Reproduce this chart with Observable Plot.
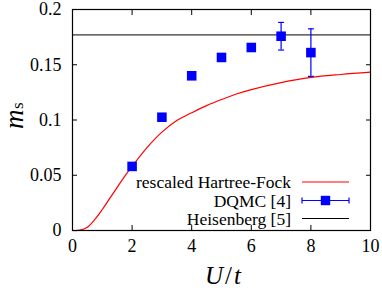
<!DOCTYPE html>
<html><head><meta charset="utf-8">
<script src="https://cdn.jsdelivr.net/npm/d3@7"></script>
<script src="https://cdn.jsdelivr.net/npm/@observablehq/plot@0.6"></script>
<style>
body{margin:0;background:#fff;}
#wrap{position:relative;width:382px;height:291px;font-family:'Liberation Serif','Times New Roman',serif;color:#000;}
.lab{position:absolute;white-space:nowrap;font-family:'Liberation Serif','Times New Roman',serif;}
</style></head>
<body><div id="wrap"></div>
<script>
// Rescaled Hartree-Fock curve
const hfU  = [0, 0.25, 0.5, 0.75, 1.0, 1.25, 1.5, 1.75, 2.0, 2.5, 3.0, 3.5, 4.0, 4.5, 5.0, 5.5, 6.0, 7.0, 8.0, 9.0, 10.0];
const hfMs = [0, 0.0003, 0.003, 0.010, 0.019, 0.029, 0.039, 0.049, 0.058, 0.075, 0.089, 0.0995, 0.1065, 0.1130, 0.1185, 0.1235, 0.1275, 0.1338, 0.1385, 0.1412, 0.1433];
// DQMC [4]
const qmcU   = [2, 3, 4, 5, 6, 7, 8];
const qmcMs  = [0.058, 0.1025, 0.140, 0.1566, 0.1656, 0.1758, 0.161];
const qmcErr = [0, 0, 0, 0, 0, 0.0125, 0.0215];
// Heisenberg [5]
const heisMs = 0.177;
const xTicks = [0, 2, 4, 6, 8, 10];
const yTicks = [0, 0.05, 0.1, 0.15, 0.2];
const legendLabels = ["rescaled Hartree-Fock", "DQMC [4]", "Heisenberg [5]"];

const hf = hfU.map((u, i) => ({u, m: hfMs[i]}));
const qmc = qmcU.map((u, i) => ({u, m: qmcMs[i], e: qmcErr[i]}));
const qmcE = qmc.filter(d => d.e > 0);
const capW = 0.1;

const plot = Plot.plot({
  width: 382, height: 291,
  marginLeft: 72, marginRight: 12, marginTop: 9, marginBottom: 61,
  style: {fontFamily: "'Liberation Serif', 'Times New Roman', serif", fontSize: "18px", color: "#000", background: "#fff"},
  x: {domain: [0, 10]},
  y: {domain: [0, 0.2]},
  marks: [
    Plot.line(hf, {x: "u", y: "m", stroke: "#ff0000", strokeWidth: 1.2, curve: "catmull-rom"}),
    Plot.ruleY([heisMs], {x1: 0, x2: 10, stroke: "#000", strokeWidth: 1}),
    Plot.ruleX(qmcE, {x: "u", y1: d => d.m - d.e, y2: d => d.m + d.e, stroke: "#0000ff", strokeWidth: 1.2}),
    Plot.link(qmcE, {x1: d => d.u - capW, x2: d => d.u + capW, y1: d => d.m + d.e, y2: d => d.m + d.e, stroke: "#0000ff", strokeWidth: 1.2}),
    Plot.link(qmcE, {x1: d => d.u - capW, x2: d => d.u + capW, y1: d => d.m - d.e, y2: d => d.m - d.e, stroke: "#0000ff", strokeWidth: 1.2}),
    Plot.dot(qmc, {x: "u", y: "m", symbol: "square", r: 5.4, fill: "#0000ff", stroke: "none"}),
    Plot.axisX({ticks: xTicks, anchor: "bottom", tickSize: -5, tickPadding: 14, label: null, tickFormat: d => String(d)}),
    Plot.axisX({ticks: xTicks, anchor: "top", tickSize: -5, label: null, tickFormat: () => ""}),
    Plot.axisY({ticks: yTicks, anchor: "left", tickSize: -5, tickPadding: 16, label: null, tickFormat: d => String(d)}),
    Plot.axisY({ticks: yTicks, anchor: "right", tickSize: -5, label: null, tickFormat: () => ""}),
    Plot.frame({stroke: "#000", strokeWidth: 1.2})
  ]
});
const wrap = document.getElementById("wrap");
wrap.appendChild(plot);

function addLab(html, css) {
  const d = document.createElement("div");
  d.className = "lab"; d.innerHTML = html; d.style.cssText = css;
  wrap.appendChild(d);
  return d;
}
// axis labels
addLab('<i>U</i><span style="margin:0 2px">/</span><i>t</i>', 'left:223px;top:275px;font-size:25px;line-height:25px;transform:translate(-50%,-50%);');
addLab('<i>m</i><span style="font-size:17px;position:relative;left:-4px">s</span>',
  'left:14px;top:116px;font-size:27px;line-height:22px;writing-mode:vertical-rl;transform:translate(-50%,-50%) rotate(180deg);');

// legend
const rows = [182, 200.5, 218.5];
legendLabels.forEach((t, i) => {
  addLab(t, `right:${382-291}px;top:${rows[i]-8}px;font-size:17.5px;line-height:16px;text-align:right;`);
});
const ns = "http://www.w3.org/2000/svg";
const lg = document.createElementNS(ns, "svg");
lg.setAttribute("width", 382); lg.setAttribute("height", 291);
lg.style.cssText = "position:absolute;left:0;top:0;pointer-events:none";
function ln(x1, y1, x2, y2, c, w) {
  const l = document.createElementNS(ns, "line");
  l.setAttribute("x1", x1); l.setAttribute("y1", y1); l.setAttribute("x2", x2); l.setAttribute("y2", y2);
  l.setAttribute("stroke", c); l.setAttribute("stroke-width", w); lg.appendChild(l);
}
ln(302, rows[0], 349, rows[0], "#ff0000", 1.2);
ln(302, rows[1], 349, rows[1], "#0000ff", 1.2);
ln(302, rows[1]-3, 302, rows[1]+3, "#0000ff", 1.2);
ln(349, rows[1]-3, 349, rows[1]+3, "#0000ff", 1.2);
const sq = document.createElementNS(ns, "rect");
sq.setAttribute("x", 325.5-4.7); sq.setAttribute("y", rows[1]-4.7); sq.setAttribute("width", 9.4); sq.setAttribute("height", 9.4);
sq.setAttribute("fill", "#0000ff"); lg.appendChild(sq);
ln(302, rows[2], 349, rows[2], "#000", 1.2);
wrap.appendChild(lg);
</script></body></html>
